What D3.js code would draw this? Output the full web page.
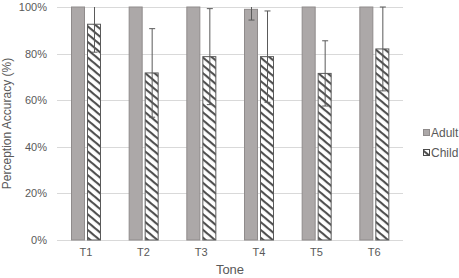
<!DOCTYPE html>
<html>
<head>
<meta charset="utf-8">
<script src="https://cdn.jsdelivr.net/npm/d3@7"></script>
<style>
  body { margin: 0; background: #fff; }
  text { font-family: "Liberation Sans", Arial, sans-serif; fill: #595959; }
</style>
</head>
<body>
<div id="wrapper"></div>
<script>
const tones = ["T1", "T2", "T3", "T4", "T5", "T6"];
const groups = ["Adult", "Child"];
const adultValues = [100, 100, 100, 99, 100, 100];
const adultErrors = [0, 0, 0, 4.6, 0, 0];
const childValues = [92.6, 71.7, 78.7, 78.7, 71.5, 82];
const childErrors = [12, 19, 20.6, 19.6, 14, 18];
const yTicks = [0, 20, 40, 60, 80, 100];

const dimensions = {
  width: 459,
  height: 278,
  margin: { top: 7, right: 56, bottom: 38, left: 57 },
};
dimensions.boundedWidth = dimensions.width - dimensions.margin.left - dimensions.margin.right;
dimensions.boundedHeight = dimensions.height - dimensions.margin.top - dimensions.margin.bottom;

const wrapper = d3.select("#wrapper")
  .append("svg")
    .attr("width", dimensions.width)
    .attr("height", dimensions.height);

// hatch for the child bars
const defs = wrapper.append("defs");
defs.append("pattern")
    .attr("id", "hatch")
    .attr("patternUnits", "userSpaceOnUse")
    .attr("width", 6)
    .attr("height", 6)
    .attr("patternTransform", "rotate(40)")
  .call(p => p.append("rect").attr("width", 6).attr("height", 6).attr("fill", "#fff"))
  .append("rect")
    .attr("width", 6)
    .attr("height", 2.1)
    .attr("fill", "#505050");

const bounds = wrapper.append("g")
  .attr("transform", `translate(${dimensions.margin.left}, ${dimensions.margin.top})`);

const xScale = d3.scaleBand()
  .domain(tones)
  .range([0, dimensions.boundedWidth]);

const x1 = d3.scaleBand()
  .domain(groups)
  .range([14, 44])
  .paddingInner(0.125);

const yScale = d3.scaleLinear()
  .domain([0, 100])
  .range([dimensions.boundedHeight, 0]);

// gridlines
bounds.append("g")
  .selectAll("line")
  .data(yTicks)
  .join("line")
    .attr("x1", 0)
    .attr("x2", dimensions.boundedWidth)
    .attr("y1", d => Math.round(yScale(d)) + 0.5)
    .attr("y2", d => Math.round(yScale(d)) + 0.5)
    .attr("stroke", "#d9d9d9")
    .attr("stroke-width", 1.2);

const data = tones.map((t, i) => ({
  tone: t,
  bars: [
    { group: "Adult", value: adultValues[i], err: adultErrors[i] },
    { group: "Child", value: childValues[i], err: childErrors[i] },
  ],
}));

const toneGroups = bounds.append("g")
  .selectAll("g")
  .data(data)
  .join("g")
    .attr("transform", d => `translate(${xScale(d.tone)}, 0)`);

toneGroups.selectAll("rect")
  .data(d => d.bars)
  .join("rect")
    .attr("x", d => x1(d.group) + 0.5)
    .attr("y", d => yScale(d.value))
    .attr("width", x1.bandwidth() - 1)
    .attr("height", d => yScale(0) - yScale(d.value))
    .attr("fill", d => d.group === "Adult" ? "#aca8a8" : "url(#hatch)")
    .attr("stroke", d => d.group === "Adult" ? "#8f8b8b" : "#5a5a5a")
    .attr("stroke-width", 1);

// error bars
const errs = toneGroups.selectAll(".err")
  .data(d => d.bars.filter(b => b.err > 0))
  .join("g")
    .attr("class", "err")
    .attr("stroke", "#5a5a5a")
    .attr("stroke-width", 1);

const cx = d => Math.round(x1(d.group) + x1.bandwidth() / 2) + 0.5;
const hi = d => yScale(Math.min(100, d.value + d.err));
const lo = d => yScale(d.value - d.err);

errs.append("line")
  .attr("x1", cx).attr("x2", cx)
  .attr("y1", hi).attr("y2", lo);
errs.append("line")
  .attr("x1", d => cx(d) - 3).attr("x2", d => cx(d) + 3)
  .attr("y1", lo).attr("y2", lo);
errs.filter(d => d.value + d.err <= 100.5)
  .append("line")
  .attr("x1", d => cx(d) - 3).attr("x2", d => cx(d) + 3)
  .attr("y1", hi).attr("y2", hi);

// axes
const yAxisGenerator = d3.axisLeft(yScale)
  .tickValues(yTicks)
  .tickSize(0)
  .tickPadding(10)
  .tickFormat(d => d + "%");

const yAxis = bounds.append("g").call(yAxisGenerator);
yAxis.select(".domain").remove();
yAxis.selectAll("text").attr("font-size", 11).attr("fill", "#595959");

const xAxisGenerator = d3.axisBottom(xScale).tickSize(0).tickPadding(8);
const xAxis = bounds.append("g")
  .attr("transform", `translate(0, ${dimensions.boundedHeight})`)
  .call(xAxisGenerator);
xAxis.select(".domain").remove();
xAxis.selectAll("text").attr("font-size", 11).attr("fill", "#595959");

// titles
wrapper.append("text")
  .attr("x", dimensions.margin.left + dimensions.boundedWidth / 2)
  .attr("y", 274)
  .attr("text-anchor", "middle")
  .attr("font-size", 13)
  .text("Tone");

wrapper.append("text")
  .attr("transform", `translate(11, ${dimensions.margin.top + dimensions.boundedHeight / 2}) rotate(-90)`)
  .attr("text-anchor", "middle")
  .attr("font-size", 12)
  .text("Perception Accuracy (%)");

// legend
const legend = wrapper.append("g")
  .attr("transform", "translate(423, 129)")
  .selectAll("g")
  .data(groups)
  .join("g")
    .attr("transform", (d, i) => `translate(0, ${i * 20})`);

legend.append("rect")
  .attr("x", 0.5).attr("y", 0.5)
  .attr("width", 6).attr("height", 6)
  .attr("fill", d => d === "Adult" ? "#aca8a8" : "url(#hatch)")
  .attr("stroke", d => d === "Adult" ? "#8f8b8b" : "#4a4a4a");

legend.append("text")
  .attr("x", 8)
  .attr("y", 8)
  .attr("font-size", 12)
  .text(d => d);
</script>
</body>
</html>
